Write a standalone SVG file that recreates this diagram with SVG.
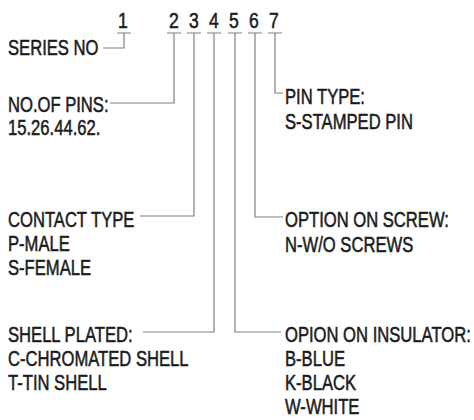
<svg xmlns="http://www.w3.org/2000/svg" width="474" height="420" viewBox="0 0 474 420">
<style>
.t{font-family:"Liberation Sans",Arial,sans-serif;font-size:22px;fill:#1c1c1c;stroke:#1c1c1c;stroke-width:0.55}
.d{text-anchor:middle}
.c{fill:none;stroke:#808080;stroke-width:1.2}
</style>
<rect width="474" height="420" fill="#fff"/>
<g id="code">
<g class="c">
<path d="M117 33H131M167 33H181M187 33H201M207 33H221M228 33H242M248 33H262M268 33H282"/>
</g>
<text class="t d" transform="translate(123 28) scale(0.8 1)">1</text>
<text class="t d" transform="translate(174 28) scale(0.8 1)">2</text>
<text class="t d" transform="translate(194 28) scale(0.8 1)">3</text>
<text class="t d" transform="translate(214 28) scale(0.8 1)">4</text>
<text class="t d" transform="translate(234 28) scale(0.8 1)">5</text>
<text class="t d" transform="translate(254 28) scale(0.8 1)">6</text>
<text class="t d" transform="translate(274 28) scale(0.8 1)">7</text>
</g>
<g id="connectors" class="c">
<path d="M124 33V48H103"/>
<path d="M174 33V103H110"/>
<path d="M194 33V216H140"/>
<path d="M214 33V332H143"/>
<path d="M235 33V332H281"/>
<path d="M255 33V217H283"/>
<path d="M275 33V93H283"/>
</g>
<g id="series">
<text class="t" transform="translate(8 55) scale(0.755 1)">SERIES NO</text>
</g>
<g id="pins">
<text class="t" transform="translate(8 112) scale(0.755 1)">NO.OF PINS:</text>
<text class="t" transform="translate(8 135) scale(0.755 1)">15.26.44.62.</text>
</g>
<g id="contact">
<text class="t" transform="translate(8 227) scale(0.755 1)">CONTACT TYPE</text>
<text class="t" transform="translate(8 251) scale(0.755 1)">P-MALE</text>
<text class="t" transform="translate(8 275) scale(0.755 1)">S-FEMALE</text>
</g>
<g id="shell">
<text class="t" transform="translate(8 342) scale(0.755 1)">SHELL PLATED:</text>
<text class="t" transform="translate(8 366) scale(0.755 1)">C-CHROMATED SHELL</text>
<text class="t" transform="translate(8 390) scale(0.755 1)">T-TIN SHELL</text>
</g>
<g id="pintype">
<text class="t" transform="translate(285 104) scale(0.755 1)">PIN TYPE:</text>
<text class="t" transform="translate(285 129) scale(0.755 1)">S-STAMPED PIN</text>
</g>
<g id="screw">
<text class="t" transform="translate(285 227) scale(0.755 1)">OPTION ON SCREW:</text>
<text class="t" transform="translate(285 252) scale(0.755 1)">N-W/O SCREWS</text>
</g>
<g id="insulator">
<text class="t" transform="translate(285 342) scale(0.755 1)">OPION ON INSULATOR:</text>
<text class="t" transform="translate(285 366) scale(0.755 1)">B-BLUE</text>
<text class="t" transform="translate(285 390) scale(0.755 1)">K-BLACK</text>
<text class="t" transform="translate(285 414) scale(0.755 1)">W-WHITE</text>
</g>
</svg>
